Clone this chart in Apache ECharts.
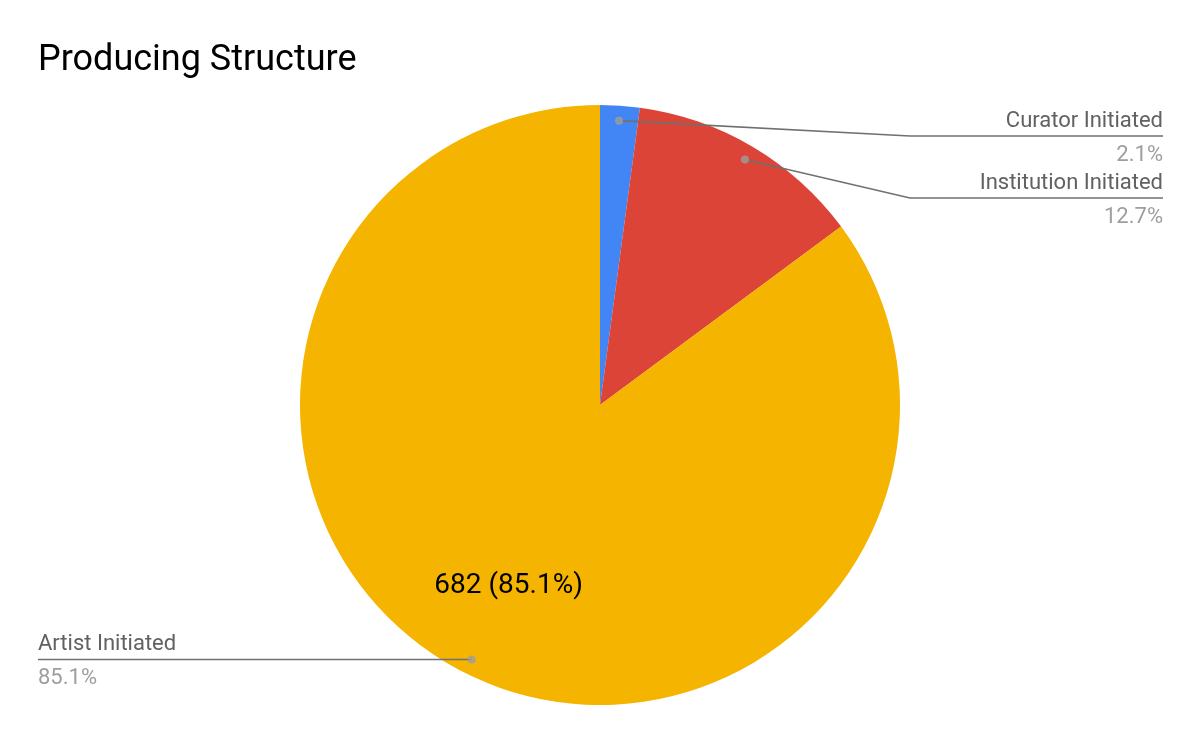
<!DOCTYPE html>
<html>
<head>
<meta charset="utf-8">
<title>Producing Structure</title>
<script src="https://cdn.jsdelivr.net/npm/echarts@6/dist/echarts.min.js"></script>
<style>
  html, body { margin: 0; padding: 0; background: #fff; }
  #chart { width: 1200px; height: 742px; }
</style>
</head>
<body>
<div id="chart"></div>
<script>
// 数据
var categories = ['Curator Initiated', 'Institution Initiated', 'Artist Initiated'];
var counts = [17, 102, 682];
var sliceColors = ['#4285f4', '#db4437', '#f4b400'];

var chart = echarts.init(document.getElementById('chart'));

var fontFamily = 'Roboto, "Noto Sans", sans-serif';
var center = [600, 405];
var pieRadius = 300;
var labelTop = 136;   // 右侧第一条标签线的 y
var labelGap = 62;    // 右侧标签间距
var edge = 37;

var total = counts.reduce(function (a, b) { return a + b; }, 0);

// 百分比（各自四舍五入，不做凑整）
function pct(v) {
  return (v / total * 100).toFixed(1) + '%';
}

// 每个扇区中点对应的累计值（用于标注小圆点）
var midValues = [];
var acc = 0;
counts.forEach(function (v) {
  midValues.push(acc + v / 2);
  acc += v;
});

var pieData = categories.map(function (name, i) {
  return { name: name, value: counts[i], itemStyle: { color: sliceColors[i] } };
});
var plainData = categories.map(function (name, i) {
  return { name: name, value: counts[i] };
});

function rightRank(i) {
  var n = 0;
  for (var j = 0; j < i; j++) {
    if (midValues[j] < total / 2) n++;
  }
  return n;
}

var option = {
  animation: false,
  title: {
    text: 'Producing Structure',
    left: 38,
    top: 43,
    padding: 0,
    textStyle: {
      color: '#000',
      fontFamily: fontFamily,
      fontSize: 36,
      fontWeight: 'normal'
    }
  },
  polar: {
    center: center,
    radius: pieRadius * 0.95
  },
  angleAxis: {
    type: 'value',
    min: 0,
    max: total,
    startAngle: 90,
    clockwise: true,
    show: false
  },
  radiusAxis: {
    type: 'value',
    min: 0,
    max: 1,
    show: false
  },
  series: [
    {
      // 饼图本体
      type: 'pie',
      center: center,
      radius: pieRadius,
      startAngle: 90,
      silent: true,
      z: 1,
      data: pieData,
      label: { show: false },
      labelLine: { show: false }
    },
    {
      // 扇区内的数值标签
      type: 'pie',
      center: center,
      radius: [pieRadius / 3, pieRadius],
      startAngle: 90,
      silent: true,
      z: 2,
      data: plainData,
      itemStyle: { color: 'rgba(0,0,0,0)' },
      label: {
        show: true,
        position: 'inside',
        color: '#000',
        fontFamily: fontFamily,
        fontSize: 28,
        formatter: function (p) {
          return p.value / total > 0.2 ? p.value + ' (' + pct(p.value) + ')' : '';
        }
      },
      labelLine: { show: false }
    },
    {
      // 外侧标签和引导线
      type: 'pie',
      center: center,
      radius: pieRadius * 0.95,
      startAngle: 90,
      silent: true,
      z: 5,
      data: plainData,
      itemStyle: { color: 'rgba(0,0,0,0)' },
      label: {
        show: true,
        position: 'outside',
        formatter: function (p) {
          return '{name|' + p.name + '}\n{pct|' + pct(p.value) + '}';
        },
        rich: {
          name: {
            color: '#616161',
            fontFamily: fontFamily,
            fontSize: 22,
            lineHeight: 34
          },
          pct: {
            color: '#9e9e9e',
            fontFamily: fontFamily,
            fontSize: 22,
            lineHeight: 34
          }
        }
      },
      labelLine: {
        show: true,
        lineStyle: { color: '#707070', width: 1.6 }
      },
      labelLayout: function (params) {
        var i = params.dataIndex;
        var start = params.labelLinePoints[0];
        var isRight = midValues[i] < total / 2;
        var w = chart.getWidth();
        var y = isRight ? labelTop + rightRank(i) * labelGap : start[1];
        var elbowX = isRight ? center[0] + pieRadius + 10 : start[0];
        var endX = isRight ? w - edge : edge + 1;
        return {
          x: endX,
          y: y + 2,
          align: isRight ? 'right' : 'left',
          verticalAlign: 'middle',
          labelLinePoints: [start, [elbowX, y], [endX, y]]
        };
      }
    },
    {
      // 引导线起点的小圆点
      type: 'scatter',
      coordinateSystem: 'polar',
      silent: true,
      symbolSize: 8,
      itemStyle: { color: '#9e9e9e' },
      data: midValues.map(function (m) { return [1, m]; }),
      z: 10
    }
  ]
};

chart.setOption(option);
</script>
</body>
</html>
